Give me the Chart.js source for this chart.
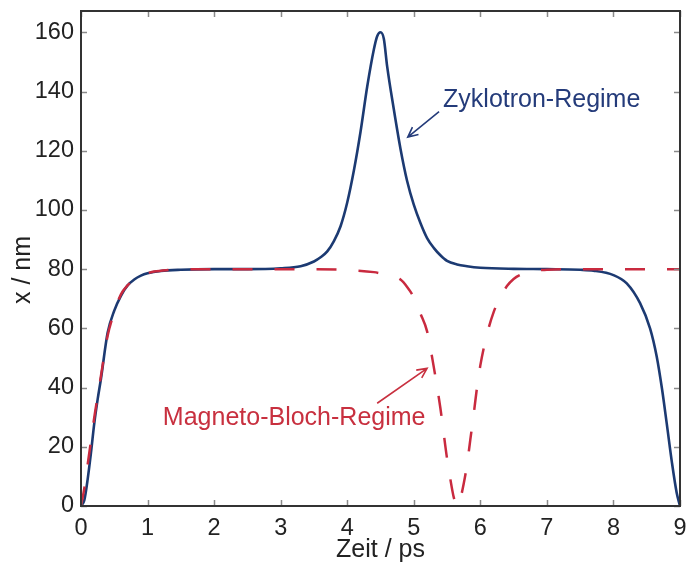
<!DOCTYPE html>
<html>
<head>
<meta charset="utf-8">
<script src="https://cdn.jsdelivr.net/npm/chart.js@4/dist/chart.umd.min.js"></script>
<style>
  html, body { margin: 0; padding: 0; background: #fff; }
  #grafico { display: block; }
</style>
</head>
<body>
<canvas id="grafico" width="693" height="565"></canvas>
<script>
// Werte
var zeitZyklotron = [0, 0.05, 0.1, 0.15, 0.2, 0.25, 0.3, 0.4, 0.5, 0.6, 0.7, 0.8, 0.9, 1.0, 1.2, 1.5, 2.0, 2.5, 3.0, 3.3, 3.5, 3.6, 3.7, 3.8, 3.9, 4.0, 4.1, 4.2, 4.3, 4.4, 4.45, 4.5, 4.55, 4.6, 4.7, 4.8, 4.9, 5.0, 5.1, 5.2, 5.3, 5.4, 5.5, 5.65, 5.8, 6.0, 6.5, 7.0, 7.5, 7.7, 8.0, 8.2, 8.4, 8.55, 8.65, 8.73, 8.8, 8.88, 8.95, 9.0];
var xZyklotron = [0, 2, 9, 18, 28, 36, 43, 58.5, 66, 71, 74.5, 76.5, 77.8, 78.6, 79.4, 79.8, 80, 80, 80.3, 81, 82.6, 84, 86, 89.5, 94.5, 102.5, 113.3, 126.4, 141.6, 154.2, 158.7, 160, 157.8, 148.5, 134, 120.7, 109.8, 101.8, 95.6, 90.5, 87.2, 84.7, 82.8, 81.6, 81, 80.5, 80.1, 80, 79.8, 79.5, 78, 75.2, 68.5, 60, 50.5, 39.5, 28, 14.5, 4.5, 0];

var zeitBloch = [0, 0.05, 0.1, 0.15, 0.2, 0.25, 0.3, 0.4, 0.5, 0.6, 0.7, 0.8, 0.9, 1.0, 1.1, 1.3, 1.6, 2.0, 3.0, 3.5, 4.0, 4.4, 4.6, 4.8, 4.9, 5.0, 5.1, 5.2, 5.3, 5.4, 5.5, 5.55, 5.6, 5.65, 5.7, 5.75, 5.8, 5.85, 5.9, 5.95, 6.0, 6.1, 6.2, 6.3, 6.4, 6.5, 6.6, 6.8, 7.0, 7.3, 8.0, 9.0];
var xBloch = [0, 6, 14, 22, 30, 37, 44, 57.5, 65.5, 71.5, 74.5, 76.5, 77.8, 78.6, 79.2, 79.7, 80, 80, 80, 80, 79.7, 79, 78, 76.5, 74, 70.5, 65, 59, 47, 33, 16, 9, 3, 0, 2.5, 7.5, 14, 22.5, 31, 40, 47.5, 58, 65.5, 70.5, 74.3, 76.7, 78.1, 79.4, 79.8, 80, 80, 80];

var ticksZeit = [0, 1, 2, 3, 4, 5, 6, 7, 8, 9];
var ticksX = [0, 20, 40, 60, 80, 100, 120, 140, 160];

// Beschriftungen (in Datenkoordinaten)
var beschriftungen = [
    { text: 'Zyklotron-Regime', farbe: '#243b7a', tx: 5.44, ty: 134.8, von: [5.38, 133.2], nach: [4.91, 124.6] },
    { text: 'Magneto-Bloch-Regime', farbe: '#c8303f', tx: 1.23, ty: 27.4, von: [4.45, 34.7], nach: [5.2, 46.5] }
];

var BLAU = '#1c3a72';
var ROT = '#c92a3f';
var SCHRIFT = '"Liberation Sans", Arial, sans-serif';

function punkte(xs, ys) {
    var p = [];
    for (var i = 0; i < xs.length; i++) p.push({ x: xs[i], y: ys[i] });
    return p;
}

var rahmenPlugin = {
    id: 'rahmen',
    afterDatasetsDraw: function(chart) {
        var ctx = chart.ctx;
        var a = chart.chartArea;
        var sx = chart.scales.x, sy = chart.scales.y;
        ctx.save();
        // Ticks nach innen, auf allen vier Seiten
        ctx.strokeStyle = '#8a8a8a';
        ctx.lineWidth = 1.5;
        ctx.beginPath();
        ticksZeit.forEach(function(v) {
            var px = Math.round(sx.getPixelForValue(v)) + 0.5;
            ctx.moveTo(px, a.bottom); ctx.lineTo(px, a.bottom - 6);
            ctx.moveTo(px, a.top); ctx.lineTo(px, a.top + 6);
        });
        ticksX.forEach(function(v) {
            var py = Math.round(sy.getPixelForValue(v)) + 0.5;
            ctx.moveTo(a.left, py); ctx.lineTo(a.left + 6, py);
            ctx.moveTo(a.right, py); ctx.lineTo(a.right - 6, py);
        });
        ctx.stroke();
        // Rahmen
        ctx.strokeStyle = '#333';
        ctx.lineWidth = 2;
        ctx.strokeRect(a.left, a.top, a.right - a.left, a.bottom - a.top);

        // Beschriftungen mit Pfeilen
        beschriftungen.forEach(function(b) {
            ctx.fillStyle = b.farbe;
            ctx.strokeStyle = b.farbe;
            ctx.font = '25px ' + SCHRIFT;
            ctx.textBaseline = 'alphabetic';
            ctx.textAlign = 'left';
            ctx.fillText(b.text, sx.getPixelForValue(b.tx), sy.getPixelForValue(b.ty));
            var x0 = sx.getPixelForValue(b.von[0]), y0 = sy.getPixelForValue(b.von[1]);
            var x1 = sx.getPixelForValue(b.nach[0]), y1 = sy.getPixelForValue(b.nach[1]);
            var w = Math.atan2(y1 - y0, x1 - x0);
            ctx.lineWidth = 1.6;
            ctx.beginPath();
            ctx.moveTo(x0, y0); ctx.lineTo(x1, y1);
            ctx.moveTo(x1 - 11 * Math.cos(w - 0.45), y1 - 11 * Math.sin(w - 0.45));
            ctx.lineTo(x1, y1);
            ctx.lineTo(x1 - 11 * Math.cos(w + 0.45), y1 - 11 * Math.sin(w + 0.45));
            ctx.stroke();
        });

        // Achsentitel
        ctx.fillStyle = '#222';
        ctx.font = '25px ' + SCHRIFT;
        ctx.textAlign = 'center';
        ctx.textBaseline = 'middle';
        ctx.fillText('Zeit / ps', (a.left + a.right) / 2, 550);
        ctx.translate(23, 270);
        ctx.rotate(-Math.PI / 2);
        ctx.fillText('x / nm', 0, 0);
        ctx.restore();
    }
};

var ctx = document.getElementById('grafico').getContext('2d');
new Chart(ctx, {
    type: 'line',
    data: {
        datasets: [{
            label: 'Magneto-Bloch-Regime',
            data: punkte(zeitBloch, xBloch),
            borderColor: ROT,
            borderWidth: 2.5,
            borderDash: [20, 22],
            pointRadius: 0,
            cubicInterpolationMode: 'monotone',
            fill: false,
            order: 0
        }, {
            label: 'Zyklotron-Regime',
            data: punkte(zeitZyklotron, xZyklotron),
            borderColor: BLAU,
            borderWidth: 2.6,
            pointRadius: 0,
            cubicInterpolationMode: 'monotone',
            fill: false,
            order: 1
        }]
    },
    options: {
        responsive: false,
        animation: false,
        layout: { padding: { top: 11, right: 13, left: 0, bottom: 0 } },
        plugins: {
            legend: { display: false },
            tooltip: { enabled: false }
        },
        scales: {
            x: {
                type: 'linear',
                min: 0,
                max: 9,
                grid: { display: false, drawTicks: false },
                border: { display: false },
                afterFit: function(s) { s.height = 59; s.paddingLeft = 0; s.paddingRight = 0; },
                afterBuildTicks: function(s) { s.ticks = ticksZeit.map(function(v) { return { value: v }; }); },
                ticks: {
                    color: '#222',
                    font: { family: SCHRIFT, size: 23.5 },
                    padding: 8,
                    maxRotation: 0
                }
            },
            y: {
                type: 'linear',
                min: 0,
                max: 167.2,
                grid: { display: false, drawTicks: false },
                border: { display: false },
                afterFit: function(s) { s.width = 81; s.paddingTop = 0; s.paddingBottom = 0; },
                afterBuildTicks: function(s) { s.ticks = ticksX.map(function(v) { return { value: v }; }); },
                ticks: {
                    color: '#222',
                    font: { family: SCHRIFT, size: 23.5 },
                    padding: 7
                }
            }
        }
    },
    plugins: [rahmenPlugin]
});
</script>
</body>
</html>
